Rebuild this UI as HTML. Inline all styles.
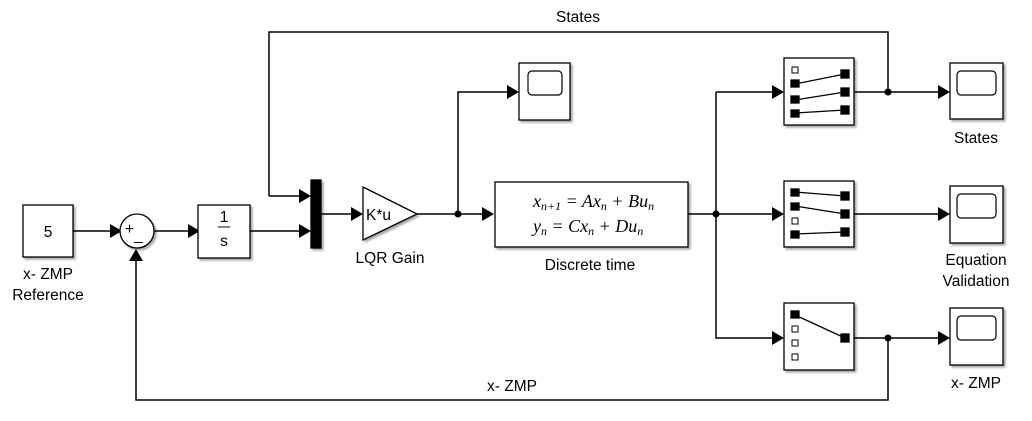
<!DOCTYPE html>
<html><head><meta charset="utf-8"><style>
html,body{margin:0;padding:0;background:#fff;}
svg{display:block;}
text{font-family:"Liberation Sans",sans-serif;font-size:15.5px;fill:#000;}
.m{font-family:"Liberation Serif",serif;font-style:italic;font-size:18px;}
</style></head><body>
<svg width="1032" height="421" viewBox="0 0 1032 421" xmlns="http://www.w3.org/2000/svg">
<defs>
<filter id="sh" x="-10%" y="-10%" width="130%" height="130%"><feDropShadow dx="2" dy="2" stdDeviation="1" flood-color="#000" flood-opacity="0.35"/></filter>
</defs>
<g fill="none" stroke="#000" stroke-width="1.5">
<path d="M73 231 H112"/>
<path d="M154 231 H190"/>
<path d="M250 231 H303"/>
<path d="M269 196 V32 H888 V92"/>
<path d="M269 196 H303"/>
<path d="M321 214 H355"/>
<path d="M417 214 H486"/>
<path d="M458 214 V92 H511"/>
<path d="M688 214 H776"/>
<path d="M716 92 V338 H776"/>
<path d="M716 92 H776"/>
<path d="M854 92 H942"/>
<path d="M854 214 H942"/>
<path d="M854 338 H942"/>
<path d="M888 338 V400 H136 V260"/>
</g>
<g fill="#000">
<path d="M110 224 L122 231 L110 238Z"/>
<path d="M188 224 L200 231 L188 238Z"/>
<path d="M299 189 L311 196 L299 203Z"/>
<path d="M299 224 L311 231 L299 238Z"/>
<path d="M351 207 L363 214 L351 221Z"/>
<path d="M482 207 L494 214 L482 221Z"/>
<path d="M507 85 L519 92 L507 99Z"/>
<path d="M772 85 L784 92 L772 99Z"/>
<path d="M772 207 L784 214 L772 221Z"/>
<path d="M772 331 L784 338 L772 345Z"/>
<path d="M938 85 L950 92 L938 99Z"/>
<path d="M938 207 L950 214 L938 221Z"/>
<path d="M938 331 L950 338 L938 345Z"/>
<path d="M129 261 L136 249 L143 261Z"/>
<circle cx="458" cy="214" r="3.5"/>
<circle cx="716" cy="214" r="3.5"/>
<circle cx="888" cy="92" r="3.5"/>
<circle cx="888" cy="338" r="3.5"/>
</g>
<g fill="#fff" stroke="#000" stroke-width="1.3" filter="url(#sh)">
<rect x="23" y="205" width="50" height="52"/>
<circle cx="137" cy="231" r="17"/>
<rect x="198" y="205" width="52" height="53"/>
<rect x="311" y="180" width="10" height="68" fill="#000"/>
<path d="M363 187 L417 214 L363 240Z"/>
<rect x="519" y="63" width="51" height="57"/>
<rect x="495" y="182" width="193" height="65"/>
<rect x="784" y="58" width="70" height="67"/>
<rect x="784" y="181" width="70" height="66"/>
<rect x="784" y="303" width="70" height="67"/>
<rect x="950" y="63" width="53" height="56"/>
<rect x="950" y="186" width="53" height="57"/>
<rect x="950" y="308" width="53" height="57"/>
</g>
<g fill="none" stroke="#000" stroke-width="1.2">
<rect x="528" y="71" width="34" height="24" rx="4"/>
<rect x="957" y="71" width="39" height="24" rx="4"/>
<rect x="957" y="194" width="39" height="24" rx="4"/>
<rect x="957" y="316" width="39" height="24" rx="4"/>
</g>
<g stroke="#000" stroke-width="1.3" fill="#000">
<rect x="792" y="67" width="6" height="6" fill="#fff" stroke-width="1"/>
<rect x="791" y="80" width="8" height="7"/><rect x="791" y="96" width="8" height="7"/><rect x="791" y="110" width="8" height="7"/>
<rect x="841" y="70" width="8" height="8"/><rect x="841" y="88" width="8" height="8"/><rect x="841" y="106" width="8" height="8"/>
<path d="M795 84 L845 74 M795 100 L845 92 M795 113 L845 110"/>
<rect x="791" y="189" width="8" height="7"/><rect x="791" y="203" width="8" height="7"/>
<rect x="792" y="218" width="6" height="6" fill="#fff" stroke-width="1"/>
<rect x="791" y="231" width="8" height="7"/>
<rect x="841" y="192" width="8" height="8"/><rect x="841" y="210" width="8" height="8"/><rect x="841" y="228" width="8" height="8"/>
<path d="M795 192 L845 196 M795 206 L845 214 M795 234 L845 232"/>
<rect x="791" y="311" width="8" height="7"/>
<rect x="792" y="326" width="6" height="6" fill="#fff" stroke-width="1"/>
<rect x="792" y="340" width="6" height="6" fill="#fff" stroke-width="1"/>
<rect x="792" y="354" width="6" height="6" fill="#fff" stroke-width="1"/>
<rect x="841" y="334" width="8" height="8"/>
<path d="M795 315 L845 338"/>
</g>
<text x="48" y="237" text-anchor="middle" font-size="16">5</text>
<text x="125" y="234" font-size="10">+</text>
<text x="134" y="240" font-size="12">_</text>
<text x="224" y="222" text-anchor="middle" font-size="16">1</text>
<path d="M218 227 H230" stroke="#000" stroke-width="1"/>
<text x="224" y="246" text-anchor="middle" font-size="16">s</text>
<text x="366" y="220" font-size="16">K*u</text>
<text x="533" y="207" class="m">x<tspan font-size="12" dy="3">n+1</tspan><tspan dy="-3"> = Ax</tspan><tspan font-size="12" dy="3">n</tspan><tspan dy="-3"> + Bu</tspan><tspan font-size="12" dy="3">n</tspan></text>
<text x="533" y="232" class="m">y<tspan font-size="12" dy="3">n</tspan><tspan dy="-3"> = Cx</tspan><tspan font-size="12" dy="3">n</tspan><tspan dy="-3"> + Du</tspan><tspan font-size="12" dy="3">n</tspan></text>
<text x="48" y="279" text-anchor="middle">x- ZMP</text>
<text x="48" y="300" text-anchor="middle">Reference</text>
<text x="390" y="263" text-anchor="middle">LQR Gain</text>
<text x="590" y="270" text-anchor="middle">Discrete time</text>
<text x="578" y="22" text-anchor="middle">States</text>
<text x="976" y="143" text-anchor="middle">States</text>
<text x="976" y="265" text-anchor="middle">Equation</text>
<text x="976" y="286" text-anchor="middle">Validation</text>
<text x="976" y="388" text-anchor="middle">x- ZMP</text>
<text x="512" y="391" text-anchor="middle">x- ZMP</text>
</svg>
</body></html>
